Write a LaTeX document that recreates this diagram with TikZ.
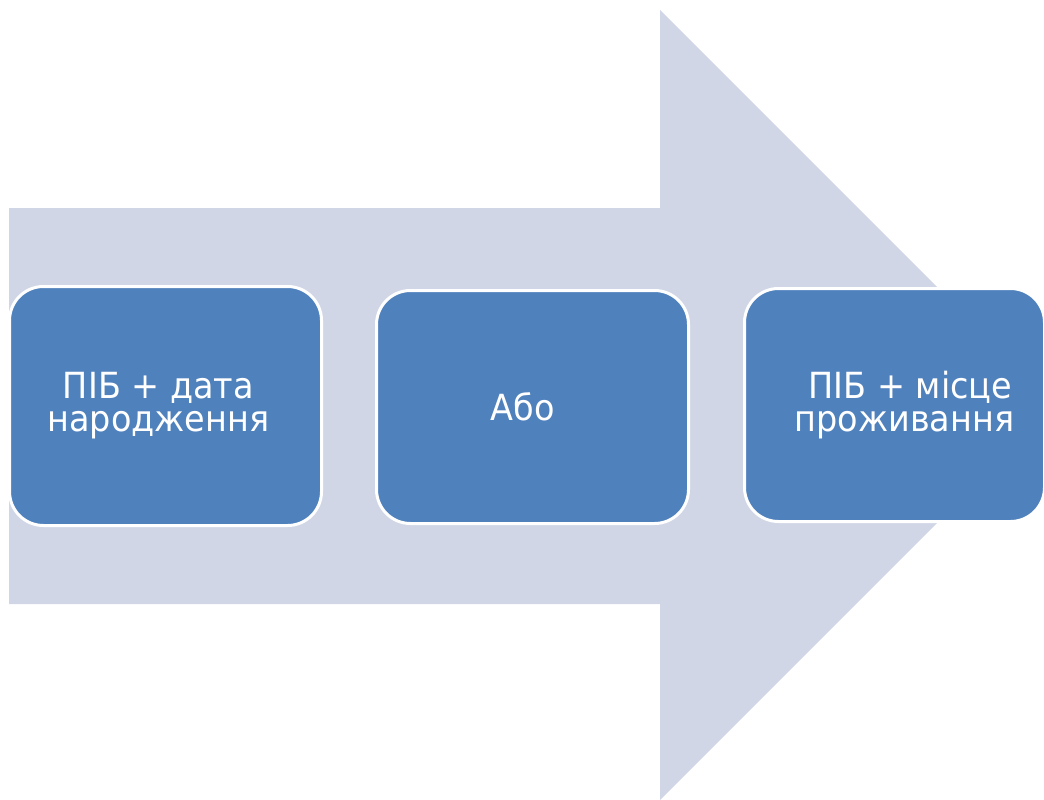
\documentclass[tikz,border=0pt]{standalone}
\usepackage{fontspec}
\setmainfont[FakeStretch=0.93]{DejaVu Sans}
\definecolor{arrowfill}{HTML}{D0D6E6}
\definecolor{boxfill}{HTML}{4F81BD}
\tikzset{
  stagebox/.style={draw=white, line width=3pt, fill=boxfill, rounded corners=34pt,
    text=white, align=center, inner sep=0pt,
    font=\fontsize{36}{33}\selectfont},
}
\begin{document}
\begin{tikzpicture}[x=1pt,y=-1pt]
\useasboundingbox (0,0) rectangle (1044,800);
\clip (0,0) rectangle (1044,800);
\fill[arrowfill] (9,208) -- (660,208) -- (660,10) -- (1055,405) -- (660,800) -- (660,604) -- (9,604) -- cycle;
\node[stagebox, minimum width=312pt, minimum height=239pt] (b1) at (165.5,406)
  {ПІБ + дата\hspace*{14pt}\\народження\hspace*{14pt}};
\node[stagebox, minimum width=312pt, minimum height=233pt] (b2) at (532.5,407)
  {Або\hspace*{20pt}};
\node[stagebox, minimum width=300pt, minimum height=233pt] (b3) at (894.5,405)
  {\hspace*{32pt}ПІБ + місце\\\hspace*{20pt}проживання};
\end{tikzpicture}
\end{document}
